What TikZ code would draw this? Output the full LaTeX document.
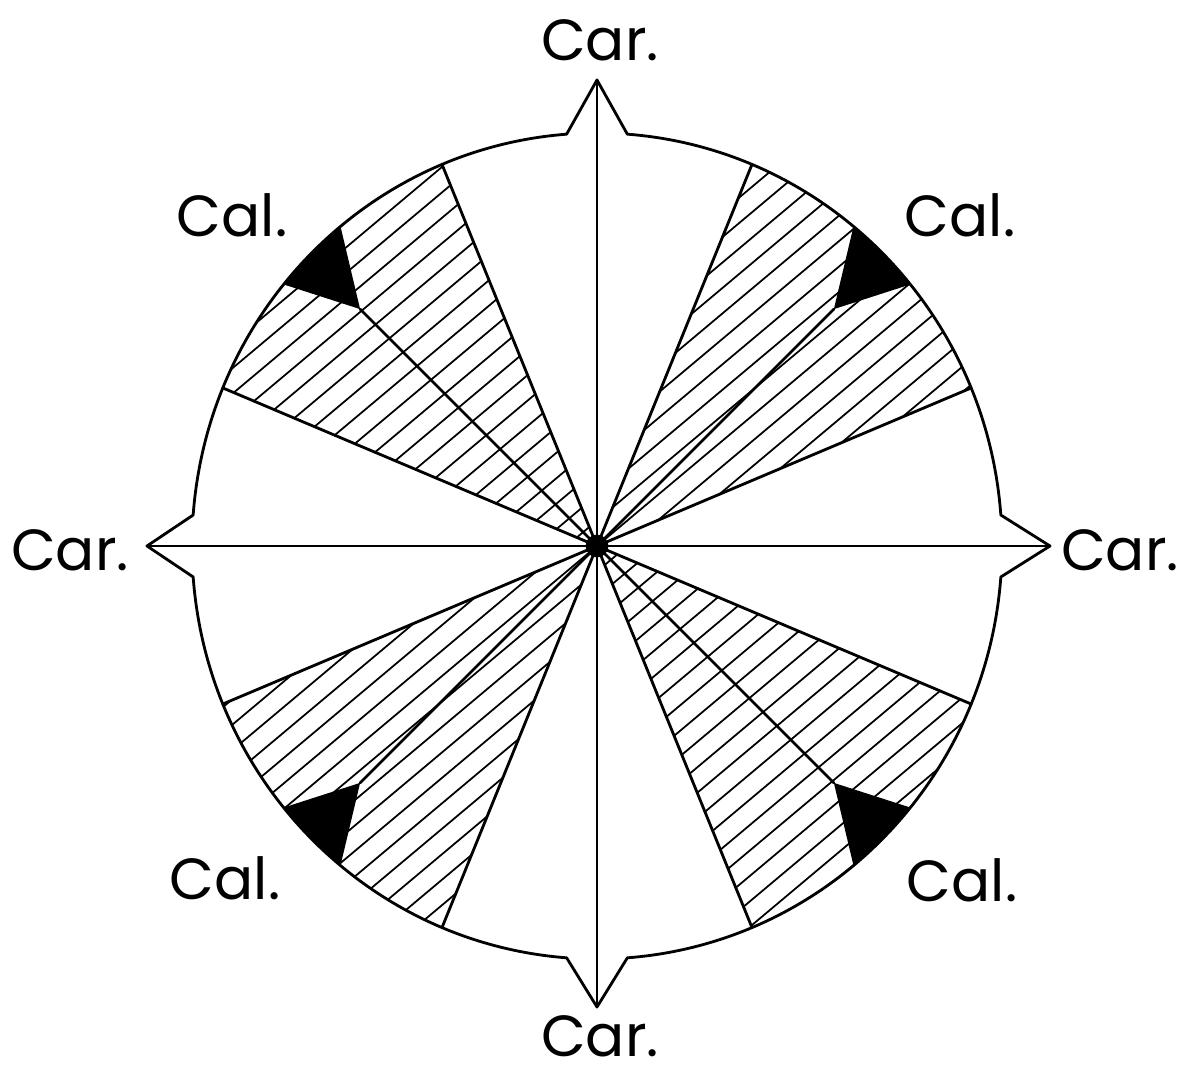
\documentclass[tikz,border=0pt]{standalone}
\usepackage{fontspec}
\setmainfont{Poppins}
\begin{document}
\begin{tikzpicture}[x=0.02cm,y=0.02cm,
  outline/.style={line width=1.6pt, line join=round, line cap=round},
  hatchline/.style={line width=1pt},
  lbl/.style={font=\fontsize{33}{40}\selectfont, inner sep=0pt}]
\useasboundingbox (-597,-532) rectangle (583,546);
\def\rx{405}\def\ry{413}
\coordinate (N) at (0,466);
\coordinate (S) at (0,-461);
\coordinate (W) at (-450,0);
\coordinate (E) at (453,0);
% hatched sectors
\foreach \a in {22.5,112.5,202.5,292.5}{
  \begin{scope}
    \clip (0,0) -- ({\rx*cos(\a)},{\ry*sin(\a)}) arc[start angle=\a, delta angle=45, x radius=\rx, y radius=\ry] -- cycle;
    \foreach \k in {-26,...,26}
      \draw[hatchline, rotate=40] (-520,\k*19.5) -- (520,\k*19.5);
  \end{scope}
}
% black triangles
\foreach \a in {45,135,225,315}{
  \fill ({335*cos(\a)},{335*sin(\a)}) -- ({\rx*cos(\a-5.7)},{\ry*sin(\a-5.7)})
    arc[start angle=\a-5.7, end angle=\a+5.7, x radius=\rx, y radius=\ry] -- cycle;
}
% centre
\node[circle, fill, inner sep=0pt, minimum size=13] (c) at (0,0) {};
% sector edges
\foreach \a in {22.5,67.5,112.5,157.5,202.5,247.5,292.5,337.5}
  \draw[outline] (c.center) -- ({\rx*cos(\a)},{\ry*sin(\a)});
\foreach \a in {45,135,225,315}
  \draw[outline] (c.center) -- ({335*cos(\a)},{335*sin(\a)});
% axes
\draw[outline] (N) -- (S);
\draw[outline] (W) -- (E);
% outline with cusps
\draw[outline] ({\rx*cos(4.3)},{\ry*sin(4.3)})
  arc[start angle=4.3, end angle=85.7, x radius=\rx, y radius=\ry] -- (N)
  -- ({\rx*cos(94.3)},{\ry*sin(94.3)})
  arc[start angle=94.3, end angle=175.7, x radius=\rx, y radius=\ry] -- (W)
  -- ({\rx*cos(184.3)},{\ry*sin(184.3)})
  arc[start angle=184.3, end angle=265.7, x radius=\rx, y radius=\ry] -- (S)
  -- ({\rx*cos(274.3)},{\ry*sin(274.3)})
  arc[start angle=274.3, end angle=355.7, x radius=\rx, y radius=\ry] -- (E) -- cycle;
% labels
\node[lbl] (tN) at (3,506) {Car.};
\node[lbl] (tS) at (3,-490) {Car.};
\node[lbl] (tW) at (-527,-4) {Car.};
\node[lbl] (tE) at (523,-4) {Car.};
\node[lbl] (tUL) at (-365,331) {Cal.};
\node[lbl] (tUR) at (363,331) {Cal.};
\node[lbl] (tLL) at (-372,-332) {Cal.};
\node[lbl] (tLR) at (365,-334) {Cal.};
\end{tikzpicture}
\end{document}
